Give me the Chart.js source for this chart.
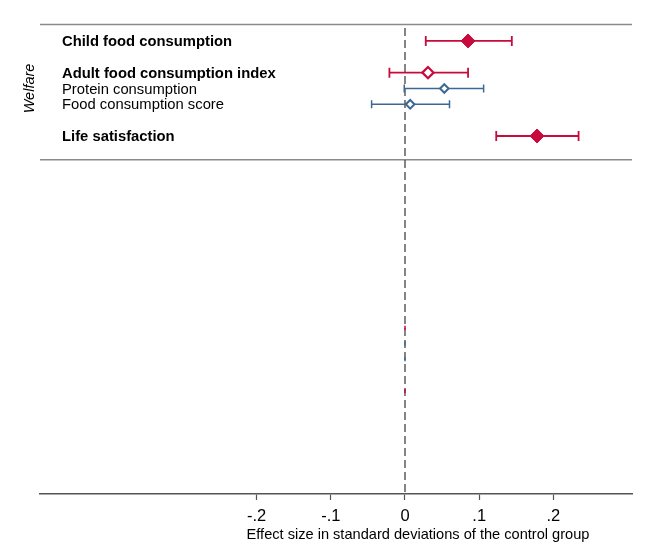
<!DOCTYPE html>
<html>
<head>
<meta charset="utf-8">
<script src="https://cdn.jsdelivr.net/npm/chart.js@4"></script>
<style>
  html, body { margin: 0; padding: 0; background: #fff; }
  #wrap { width: 650px; height: 546px; }
</style>
</head>
<body>
<div id="wrap"><canvas id="chart" width="650" height="546"></canvas></div>
<script>
// Welfare panel
const labels = ["Child food consumption", "Adult food consumption index", "Protein consumption", "Food consumption score", "Life satisfaction"];
const isIndex = [true, true, false, false, true];
const rows = [1, 3, 4, 5, 7];
const estimates = [0.085, 0.031, 0.053, 0.007, 0.178];
const ciLow = [0.028, -0.021, -0.001, -0.045, 0.123];
const ciHigh = [0.144, 0.085, 0.106, 0.060, 0.234];

// second group below (all at zero)
const lowerRows = [19.1, 20.1, 21.1, 23.1];
const lowerEstimates = [0, 0, 0, 0];
const lowerIsIndex = [true, false, false, true];

const tickValues = [-0.2, -0.1, 0, 0.1, 0.2];
const tickLabels = ["-.2", "-.1", "0", ".1", ".2"];

const RED = '#c80a3c';
const BLUE = '#3d6894';
const FONT = '"Liberation Sans", Arial, sans-serif';

// one dataset per marker type
const filledIdx = [0, 4];
const hollowRedIdx = [1];
const hollowBlueIdx = [2, 3];

function pts(idx) {
  return idx.map(i => ({ x: estimates[i], y: rows[i] }));
}

// error bars, zero line, separators, labels
const forestPlugin = {
  id: 'forest',
  beforeDatasetsDraw(chart) {
    const { ctx, chartArea, scales: { x, y } } = chart;
    ctx.save();
    // top line and panel separator
    ctx.strokeStyle = '#8a8a8a';
    ctx.lineWidth = 1.6;
    [chartArea.top + 0.5, y.getPixelForValue(8.5)].forEach(py => {
      ctx.beginPath();
      ctx.moveTo(chartArea.left, py);
      ctx.lineTo(chartArea.right, py);
      ctx.stroke();
    });
    // zero line
    const x0 = x.getPixelForValue(0);
    ctx.strokeStyle = '#444';
    ctx.lineWidth = 1.3;
    ctx.setLineDash([8, 4]);
    ctx.beginPath();
    ctx.moveTo(x0, chartArea.top + 4);
    ctx.lineTo(x0, chartArea.bottom);
    ctx.stroke();
    ctx.setLineDash([]);
    // confidence intervals
    labels.forEach((lab, i) => {
      const col = isIndex[i] ? RED : BLUE;
      const cap = isIndex[i] ? 5 : 4;
      const py = y.getPixelForValue(rows[i]);
      const a = x.getPixelForValue(ciLow[i]);
      const b = x.getPixelForValue(ciHigh[i]);
      ctx.strokeStyle = col;
      ctx.lineWidth = isIndex[i] ? 1.8 : 1.5;
      ctx.beginPath();
      ctx.moveTo(a, py); ctx.lineTo(b, py);
      ctx.moveTo(a, py - cap); ctx.lineTo(a, py + cap);
      ctx.moveTo(b, py - cap); ctx.lineTo(b, py + cap);
      ctx.stroke();
    });
    ctx.lineWidth = 1.5;
    lowerRows.forEach((r, i) => {
      const py = y.getPixelForValue(r);
      const px = x.getPixelForValue(lowerEstimates[i]);
      ctx.strokeStyle = lowerIsIndex[i] ? RED : BLUE;
      ctx.beginPath();
      ctx.moveTo(px, py - 2); ctx.lineTo(px, py + 2);
      ctx.stroke();
    });
    // row labels
    ctx.fillStyle = '#000';
    ctx.textBaseline = 'middle';
    ctx.textAlign = 'left';
    labels.forEach((lab, i) => {
      ctx.font = (isIndex[i] ? 'bold ' : '') + '14.8px ' + FONT;
      ctx.fillText(lab, 62, y.getPixelForValue(rows[i]) + 1);
    });
    // group label
    ctx.translate(30, (y.getPixelForValue(3) + y.getPixelForValue(5)) / 2);
    ctx.rotate(-Math.PI / 2);
    ctx.textAlign = 'center';
    ctx.font = 'italic 14.5px ' + FONT;
    ctx.fillText('Welfare', 0, 0);
    ctx.restore();
  },
  afterDraw(chart) {
    const { ctx } = chart;
    ctx.save();
    ctx.fillStyle = '#000';
    ctx.font = '14.6px ' + FONT;
    ctx.textAlign = 'center';
    ctx.textBaseline = 'middle';
    ctx.fillText('Effect size in standard deviations of the control group', 418, 535);
    ctx.restore();
  }
};

const ctx = document.getElementById('chart').getContext('2d');
const chart = new Chart(ctx, {
  type: 'scatter',
  data: {
    datasets: [
      {
        data: pts(filledIdx),
        pointStyle: 'rectRot',
        pointRadius: 7,
        pointBackgroundColor: RED,
        pointBorderColor: RED,
        pointBorderWidth: 1
      },
      {
        data: pts(hollowRedIdx),
        pointStyle: 'rectRot',
        pointRadius: 5.6,
        pointBackgroundColor: '#fff',
        pointBorderColor: RED,
        pointBorderWidth: 2.2
      },
      {
        data: pts(hollowBlueIdx),
        pointStyle: 'rectRot',
        pointRadius: 4.3,
        pointBackgroundColor: '#fff',
        pointBorderColor: BLUE,
        pointBorderWidth: 2
      }
    ]
  },
  options: {
    responsive: false,
    animation: false,
    layout: { padding: { left: 40, right: 18, top: 24, bottom: 0 } },
    plugins: {
      legend: { display: false },
      tooltip: { enabled: false }
    },
    scales: {
      x: {
        type: 'linear',
        min: -0.492,
        max: 0.306,
        afterBuildTicks(scale) {
          scale.ticks = tickValues.map(v => ({ value: v }));
        },
        afterFit(scale) {
          scale.height = 52;
        },
        border: { display: true, color: '#555', width: 1.6 },
        grid: {
          display: true,
          drawOnChartArea: false,
          drawTicks: true,
          tickLength: 6,
          tickColor: '#555',
          tickWidth: 1.2
        },
        ticks: {
          color: '#000',
          padding: 7,
          maxRotation: 0,
          font: { size: 16.5, family: FONT },
          callback(value) {
            const k = tickValues.findIndex(t => Math.abs(t - value) < 1e-9);
            return k >= 0 ? tickLabels[k] : '';
          }
        }
      },
      y: {
        display: false,
        type: 'linear',
        reverse: true,
        min: -0.07,
        max: 29.6
      }
    }
  },
  plugins: [forestPlugin]
});
</script>
</body>
</html>
